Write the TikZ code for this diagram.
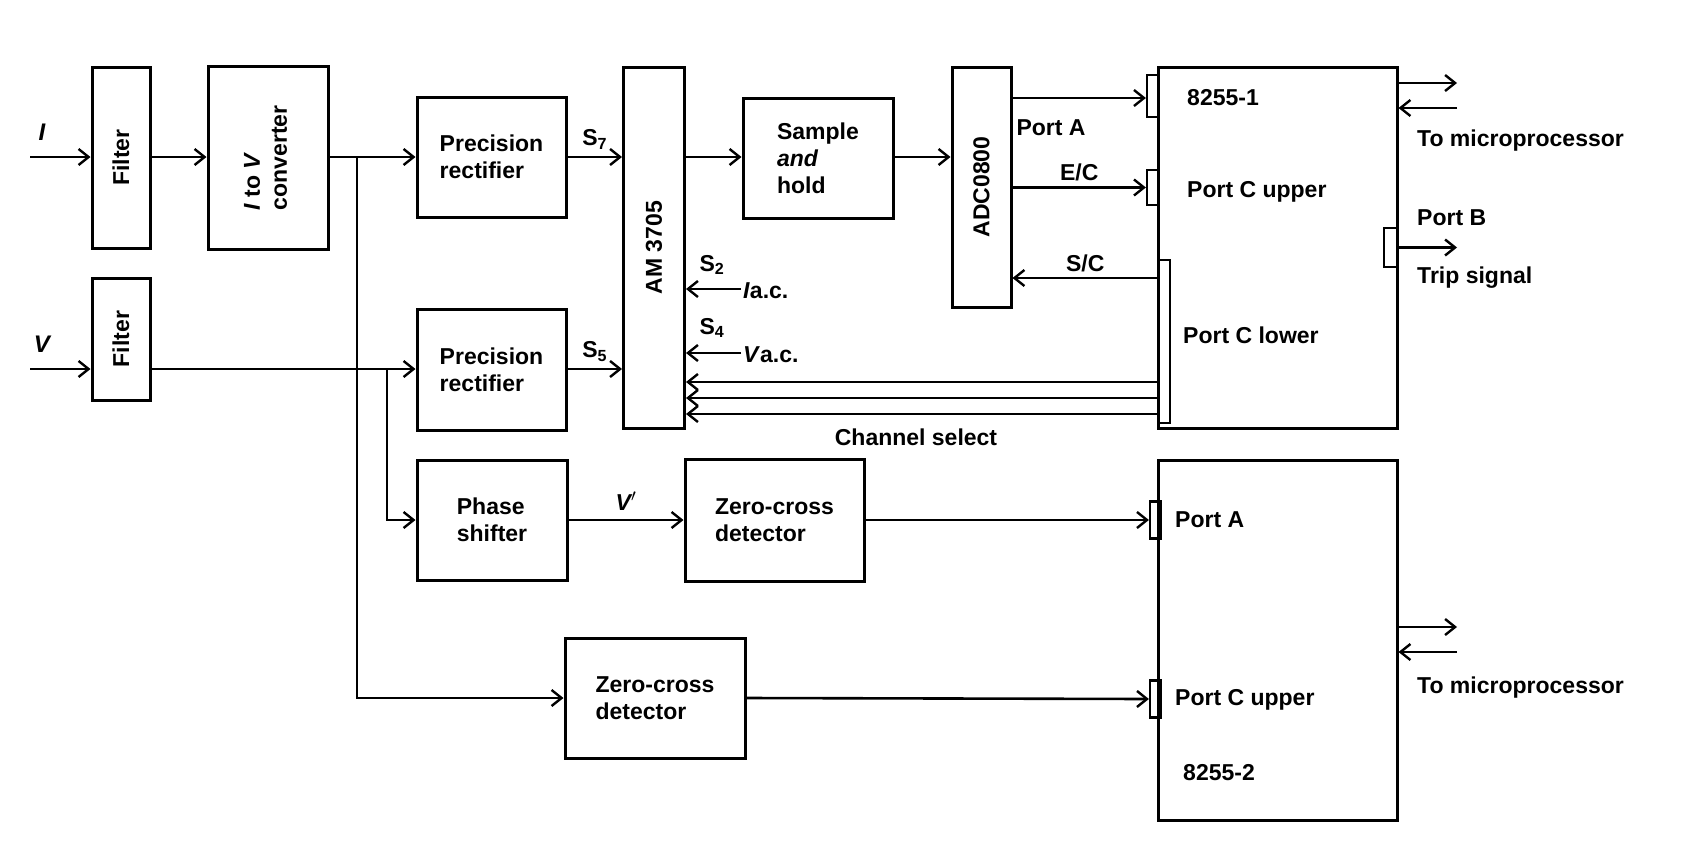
\documentclass[tikz,border=0pt]{standalone}
\usepackage{fontspec}
\setmainfont{Liberation Sans}
\usetikzlibrary{arrows.meta}
\begin{document}
\begin{tikzpicture}[x=1pt,y=-1pt,
  box/.style={draw,line width=3pt,inner sep=0pt,align=left,font=\bfseries\fontsize{23}{27}\selectfont},
  tab/.style={draw,line width=2.2pt,inner sep=0pt},
  lbl/.style={font=\bfseries\fontsize{23}{27}\selectfont,inner sep=1pt},
  ar/.style={line width=2.6pt,-{Straight Barb[length=10pt,width=16pt,line width=2.4pt]}}]
\useasboundingbox (0,0) rectangle (1699,846);
% boxes
\node[box,minimum width=58,minimum height=181] (f1) at (121,157.5) {\rotatebox{90}{Filter}};
\node[box,minimum width=58,minimum height=122] (f2) at (121,339) {\rotatebox{90}{Filter}};
\node[box,minimum width=120,minimum height=183,align=center] (iv) at (268,158) {\rotatebox{90}{\begin{tabular}{@{}l@{}}\textit{I} to \textit{V}\\converter\end{tabular}}};
\node[box,minimum width=149,minimum height=120] (p1) at (491.5,157) {Precision\\rectifier};
\node[box,minimum width=149,minimum height=121] (p2) at (491.5,369.5) {Precision\\rectifier};
\node[box,minimum width=61,minimum height=361] (am) at (654,247.5) {\rotatebox{90}{AM 3705}};
\node[box,minimum width=150,minimum height=120] (sh) at (818,158) {Sample\\\textit{and}\\hold};
\node[box,minimum width=59,minimum height=240] (adc) at (981.5,187) {\rotatebox{90}{ADC0800}};
\node[box,minimum width=239,minimum height=361] (c1) at (1277.5,247.5) {};
\node[box,minimum width=239,minimum height=360] (c2) at (1277.5,640) {};
\node[box,minimum width=150,minimum height=120] (ps) at (492,520) {Phase\\shifter};
\node[box,minimum width=179,minimum height=122] (z1) at (774.5,520) {Zero-cross\\detector};
\node[box,minimum width=180,minimum height=120] (z2) at (655,698) {Zero-cross\\detector};
% tabs
\node[tab,minimum width=11,minimum height=42] (t1a) at (1152.5,96) {};
\node[tab,minimum width=11,minimum height=35] (t1c) at (1152.5,187.5) {};
\node[tab,minimum width=12,minimum height=163] (t1l) at (1164,341.5) {};
\node[tab,minimum width=13,minimum height=39] (t1b) at (1390.5,247.5) {};
\node[tab,minimum width=11,minimum height=37] (t2a) at (1155.5,520) {};
\node[tab,minimum width=11,minimum height=37] (t2c) at (1155.5,699) {};
% texts in 8255 boxes
\node[lbl,anchor=west] at (1186,98) {8255-1};
\node[lbl,anchor=west] at (1186,192) {Port C upper};
\node[lbl,anchor=west] at (1182,335) {Port C lower};
\node[lbl,anchor=west] at (1174,520) {Port A};
\node[lbl,anchor=west] at (1174,700) {Port C upper};
\node[lbl,anchor=west] at (1182,773) {8255-2};
% inputs
\coordinate (iin) at (30,157);
\coordinate (vin) at (30,369);
\node[lbl,font=\bfseries\itshape\fontsize{24}{27}\selectfont] at (42,132) {\textit{I}};
\node[lbl,font=\bfseries\itshape\fontsize{24}{27}\selectfont] at (42,344) {\textit{V}};
\draw[ar] (iin) -- (f1.west |- iin);
\draw[ar] (vin) -- (f2.west |- vin);
\draw[ar] (f1.east |- iin) -- (iv.west |- iin);
\draw[ar] (iv.east |- iin) -- (p1.west |- iin);
\draw[ar] (f2.east |- vin) -- (p2.west |- vin);
% branches
\coordinate (bi) at (357,157);
\coordinate (bv) at (387,369);
\draw[ar] (bi) |- (z2.west);
\draw[ar] (bv) |- (ps.west);
\draw[ar] (ps.east) -- node[above=7pt,lbl,font=\bfseries\itshape\fontsize{23}{27}\selectfont]{\textit{V}$'$} (z1.west);
\draw[ar] (z1.east) -- (t2a.west);
\draw[ar] (z2.east) -- (t2c.west);
% AM inputs
\draw[ar] (p1.east |- iin) -- node[above=5pt,lbl]{S\textsubscript{7}} (am.west |- iin);
\draw[ar] (p2.east |- vin) -- node[above=5pt,lbl]{S\textsubscript{5}} (am.west |- vin);
\coordinate (iac) at (741,289);
\coordinate (vac) at (741,353);
\draw[ar] (iac) -- (am.east |- iac);
\draw[ar] (vac) -- (am.east |- vac);
\node[lbl,anchor=west] at (742,291) {\textit{I}a.c.};
\node[lbl,anchor=west] at (742,355) {\textit{V}a.c.};
\node[lbl] at (712,265) {S\textsubscript{2}};
\node[lbl] at (712,328) {S\textsubscript{4}};
% AM to S/H to ADC
\draw[ar] (am.east |- iin) -- (sh.west |- iin);
\draw[ar] (sh.east |- iin) -- (adc.west |- iin);
% ADC to 8255-1
\draw[ar] (adc.east |- 0,98) -- (t1a.west |- 0,98);
\node[lbl] at (1051,128) {Port A};
\draw[ar] (adc.east |- t1c) -- node[above=4pt,lbl]{E/C} (t1c.west);
\coordinate (sc) at (1158,278);
\draw[ar] (sc) -- node[above=4pt,lbl]{S/C} (adc.east |- sc);
% channel select
\foreach \yy in {382,398,414} {
  \coordinate (cs\yy) at (1158,\yy);
  \draw[ar] (cs\yy) -- (am.east |- cs\yy);
}
\node[lbl] at (916,437) {Channel select};
% right side
\coordinate (m1o) at (1457,83);
\coordinate (m1i) at (1457,108);
\draw[ar] (c1.east |- m1o) -- (m1o);
\draw[ar] (m1i) -- (c1.east |- m1i);
\node[lbl,anchor=west] at (1416,141) {To microprocessor};
\node[lbl,anchor=west] at (1416,218) {Port B};
\coordinate (trip) at (1457,247.5);
\draw[ar] (t1b.east) -- (trip);
\node[lbl,anchor=west] at (1416,278) {Trip signal};
\coordinate (m2o) at (1457,627);
\coordinate (m2i) at (1457,652);
\draw[ar] (c2.east |- m2o) -- (m2o);
\draw[ar] (m2i) -- (c2.east |- m2i);
\node[lbl,anchor=west] at (1416,688) {To microprocessor};
\end{tikzpicture}
\end{document}
